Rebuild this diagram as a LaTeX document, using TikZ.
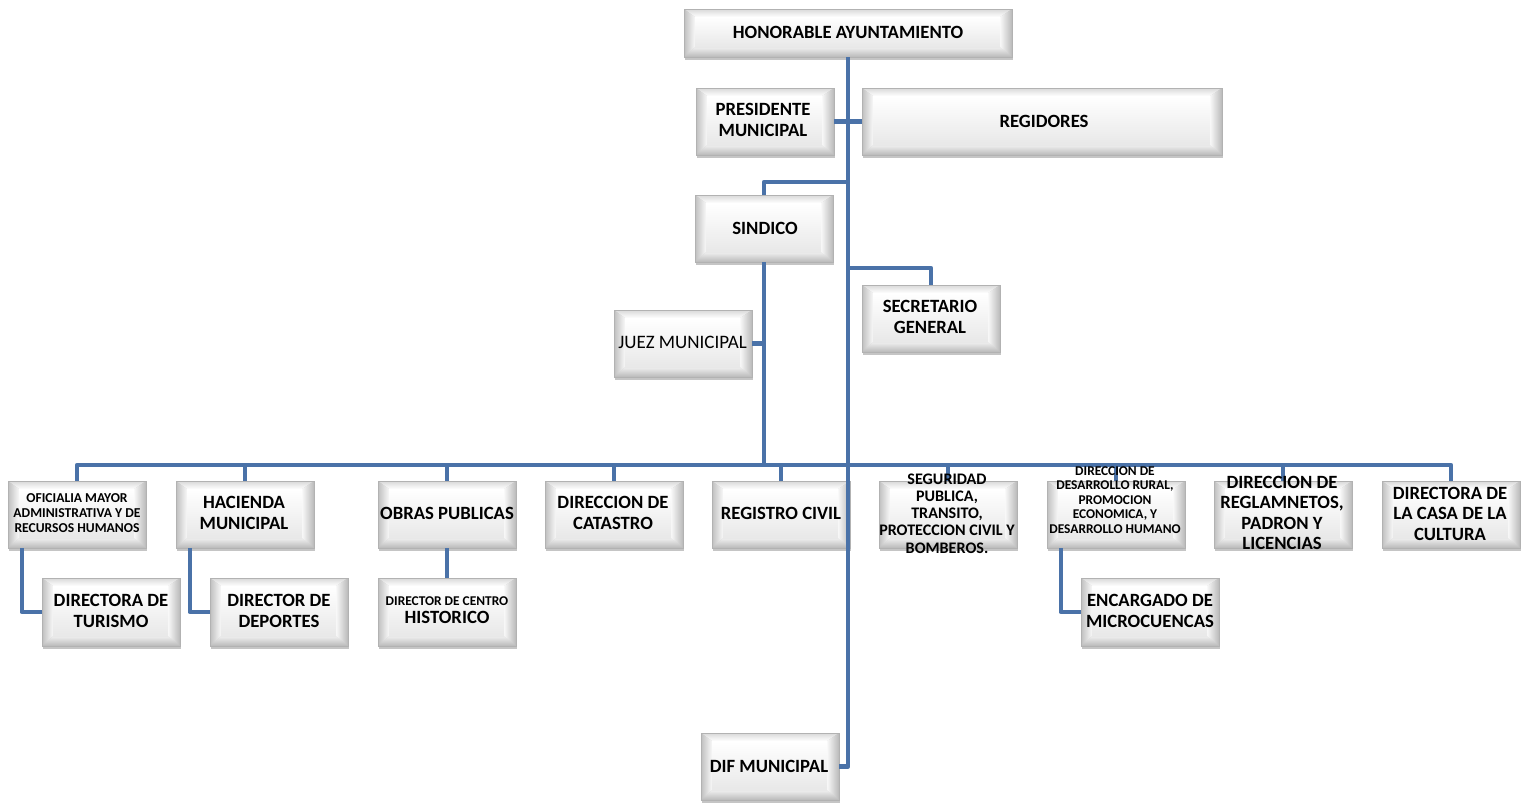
\documentclass[tikz,border=0pt]{standalone}
\usepackage{fontspec}
\setmainfont{Carlito}
\usetikzlibrary{shadows}
\definecolor{linkblue}{HTML}{4A72A8}

\tikzset{
  bev/.style={rectangle, draw=gray!60, line width=0.5pt, inner sep=0pt,
    drop shadow={shadow xshift=1pt, shadow yshift=-3pt, opacity=0.45},
    path picture={
      \path (path picture bounding box.south west) coordinate (bvsw)
            (path picture bounding box.north east) coordinate (bvne);
      \path (bvsw) ++(11pt,10pt) coordinate (bvisw);
      \path (bvne) ++(-12pt,-8pt) coordinate (bvine);
      \fill[gray!50] (bvsw) rectangle (bvne);
      % upper bevel
      \shade[top color=gray!30, bottom color=white]
        (bvsw |- bvne) -- (bvne) -- (bvine) -- (bvisw |- bvine) -- cycle;
      % lower bevel
      \shade[top color=gray!12, bottom color=gray!55]
        (bvsw) -- (bvsw -| bvne) -- (bvine |- bvisw) -- (bvisw) -- cycle;
      % left bevel
      \shade[left color=gray!50, right color=gray!5]
        (bvsw) -- (bvisw) -- (bvisw |- bvine) -- (bvsw |- bvne) -- cycle;
      % right bevel
      \shade[left color=gray!5, right color=gray!55]
        (bvsw -| bvne) -- (bvne) -- (bvine) -- (bvine |- bvisw) -- cycle;
      % face
      \shade[top color=white, bottom color=gray!18] (bvisw) rectangle (bvine);
    }},
  txt/.style={align=center, inner sep=0pt, text=black},
  big/.style={txt, font=\fontsize{18.7}{20.5}\selectfont\bfseries},
  conn/.style={draw=linkblue, line width=4.5pt, line join=round}
}

% name, x, y, width, height
\newcommand\orgbox[5]{\node[bev, minimum width=#4, minimum height=#5] (#1) at (#2,#3) {};}

\begin{document}
\begin{tikzpicture}[x=1pt, y=-1pt]
\useasboundingbox[fill=white] (0,0) rectangle (1528,803);

% ---- boxes ----
\orgbox{ha}{848}{33}{328}{48}
\orgbox{pres}{765}{121.5}{138}{67}
\orgbox{regi}{1042}{121.5}{360}{67}
\orgbox{sind}{764}{228.5}{138}{67}
\orgbox{sec}{931}{318.5}{138}{67}
\orgbox{juez}{683}{343.5}{138}{67}

\orgbox{ofi}{77}{514.5}{138}{67}
\orgbox{hac}{245}{514.5}{138}{67}
\orgbox{obr}{447}{514.5}{138}{67}
\orgbox{cat}{614}{514.5}{138}{67}
\orgbox{rc}{781}{514.5}{138}{67}
\orgbox{seg}{948}{514.5}{138}{67}
\orgbox{des}{1116}{514.5}{138}{67}
\orgbox{regl}{1283}{514.5}{138}{67}
\orgbox{cas}{1451}{514.5}{138}{67}

\orgbox{tur}{111}{612}{138}{68}
\orgbox{dep}{279}{612}{138}{68}
\orgbox{cen}{447}{612}{138}{68}
\orgbox{mic}{1150}{612}{138}{68}

\orgbox{dif}{770}{766.5}{138}{67}

% ---- connectors ----
\coordinate (bus) at (0,465);
\coordinate (k1) at (848,182);
\coordinate (k2) at (848,268);

\draw[conn] (ha.south) |- (dif.east);
\draw[conn] (pres.east) -- (regi.west);
\draw[conn] (k1) -| (sind.north);
\draw[conn] (k2) -| (sec.north);
\draw[conn] (sind.south) -- (sind.south |- bus);
\draw[conn] (juez.east) -- (juez.east -| sind.south);
\draw[conn] (ofi.north) |- (cas.north |- bus) -- (cas.north);
\foreach \n in {hac,obr,cat,rc,seg,des,regl}
  \draw[conn] (\n.north) -- (\n.north |- bus);
\draw[conn] ([xshift=14pt]ofi.south west) |- (tur.west);
\draw[conn] ([xshift=14pt]hac.south west) |- (dep.west);
\draw[conn] (obr.south) -- (cen.north);
\draw[conn] ([xshift=14pt]des.south west) |- (mic.west);

% ---- labels ----
\node[big] (ha-t) at (848,32) {HONORABLE AYUNTAMIENTO};
\node[big] (pres-t) at (763,120) {PRESIDENTE\\MUNICIPAL};
\node[big] (regi-t) at (1044,121) {REGIDORES};
\node[big] (sind-t) at (765,228) {SINDICO};
\node[big] (sec-t) at (930,317) {SECRETARIO\\GENERAL};
\node[txt, font=\fontsize{19}{20.5}\selectfont] (juez-t) at (682.5,342) {JUEZ MUNICIPAL};

\node[txt, font=\fontsize{13.6}{15}\selectfont\bfseries] (ofi-t) at (77,513) {OFICIALIA MAYOR\\ADMINISTRATIVA Y DE\\RECURSOS HUMANOS};
\node[big] (hac-t) at (244,513) {HACIENDA\\MUNICIPAL};
\node[big] (obr-t) at (447,513) {OBRAS PUBLICAS};
\node[big] (cat-t) at (613,513) {DIRECCION DE\\CATASTRO};
\node[big] (rc-t) at (781,513) {REGISTRO CIVIL};
\node[txt, font=\fontsize{16.1}{17.2}\selectfont\bfseries] (seg-t) at (947,513.5) {SEGURIDAD\\PUBLICA,\\TRANSITO,\\PROTECCION CIVIL Y\\BOMBEROS.};
\node[txt, font=\fontsize{13.4}{14.5}\selectfont\bfseries] (des-t) at (1115,500) {DIRECCION DE\\DESARROLLO RURAL,\\PROMOCION\\ECONOMICA, Y\\DESARROLLO HUMANO};
\node[big] (regl-t) at (1282,513) {DIRECCION DE\\REGLAMNETOS,\\PADRON Y\\LICENCIAS};
\node[big] (cas-t) at (1450,513.5) {DIRECTORA DE\\LA CASA DE LA\\CULTURA};

\node[big] (tur-t) at (111,611) {DIRECTORA DE\\TURISMO};
\node[big] (dep-t) at (279,611) {DIRECTOR DE\\DEPORTES};
\node[txt, font=\fontsize{18.7}{18}\selectfont\bfseries] (cen-t) at (447,610) {{\fontsize{13.4}{13}\selectfont DIRECTOR DE CENTRO}\\HISTORICO};
\node[big] (mic-t) at (1150,611) {ENCARGADO DE\\MICROCUENCAS};

\node[big] (dif-t) at (769,766) {DIF MUNICIPAL};
\end{tikzpicture}
\end{document}
